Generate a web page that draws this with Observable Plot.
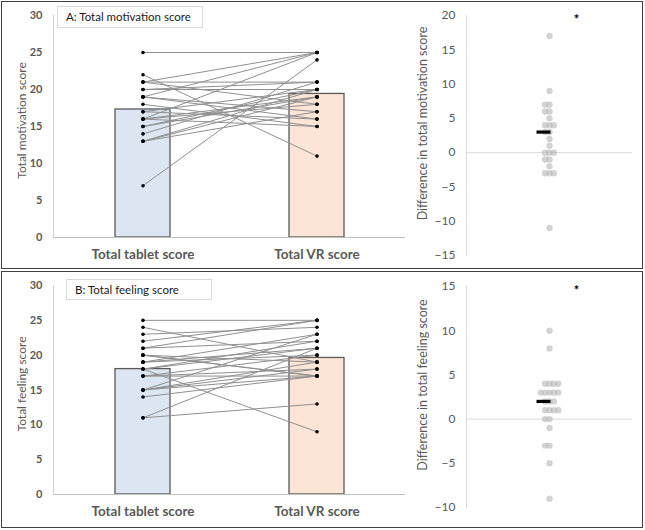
<!DOCTYPE html>
<html><head><meta charset="utf-8">
<script src="https://cdn.jsdelivr.net/npm/d3@7"></script>
<script src="https://cdn.jsdelivr.net/npm/@observablehq/plot@0.6"></script>
<style>
body{margin:0;background:#fff;font-family:Lato,"Open Sans",sans-serif;}
#root{position:relative;width:645px;height:530px;overflow:hidden;}
.panel{position:absolute;border:1.5px solid #404040;box-sizing:border-box;}
.chart{position:absolute;}
.title{position:absolute;border:1px solid #d9d9d9;box-sizing:border-box;font-size:11.5px;color:#1a1a1a;padding:3px 0 0 8px;background:#fff;white-space:nowrap;}
</style>
</head><body>
<div id="root"></div>
<script>
const categories = ["Total tablet score", "Total VR score"];
const barColors = ["#dce6f2", "#fce4d6"];
const leftTicks = [0, 5, 10, 15, 20, 25, 30];

// Panel A: Total motivation score (paired participants)
const motivationTablet = [25, 22, 7, 21, 16, 19, 21, 20, 21, 20, 19, 19, 18, 17, 16, 16, 15, 14, 13, 13, 15, 17, 16, 13];
const motivationVR     = [25, 11, 24, 25, 25, 25, 21, 21, 18, 20, 16, 17, 15, 16, 15, 19, 20, 21, 20, 19, 19, 20, 18, 17];
const motivationMeans = [17.3, 19.4];
const motivationMedianDiff = 3;
const motivationDiffTicks = [-15, -10, -5, 0, 5, 10, 15, 20];

// Panel B: Total feeling score (paired participants)
const feelingTablet = [25, 24, 23, 22, 21, 21, 20, 20, 19, 19, 18, 18, 18, 17, 17, 15, 15, 15, 15, 14, 11, 11, 20, 17, 19];
const feelingVR     = [25, 19, 24, 25, 25, 22, 17, 17, 23, 20, 9, 22, 21, 20, 17, 23, 19, 18, 17, 17, 21, 13, 19, 18, 21];
const feelingMeans = [18.0, 19.6];
const feelingMedianDiff = 2;
const feelingDiffTicks = [-10, -5, 0, 5, 10, 15];

const font = "Lato, 'Open Sans', sans-serif";

function pairedChart({tablet, vr, means, label, height, marginTop, marginBottom}) {
  const pairs = tablet.map((t, i) => ({t, v: vr[i]}));
  const bars = categories.map((c, i) => ({c, m: means[i]}));
  const points = pairs.flatMap(p => [{c: categories[0], y: p.t}, {c: categories[1], y: p.v}]);
  return Plot.plot({
    width: 410, height, marginLeft: 53, marginRight: 5, marginTop, marginBottom,
    style: {fontFamily: font, color: "#595959", background: "transparent"},
    x: {domain: categories, paddingInner: 0.686, paddingOuter: 0.349, label: null},
    y: {domain: [0, 30], label: null},
    color: {domain: categories, range: barColors},
    marks: [
      Plot.frame({anchor: "left", stroke: "#d0d0d0"}),
      Plot.barY(bars, {x: "c", y: "m", fill: "c", stroke: "#595959", strokeWidth: 1.3}),
      Plot.ruleY([0], {stroke: "#bfbfbf"}),
      Plot.link(pairs, {x1: () => categories[0], x2: () => categories[1], y1: "t", y2: "v", stroke: "#8f8f8f", strokeWidth: 1}),
      Plot.dot(points, {x: "c", y: "y", r: 1.8, fill: "#000"}),
      Plot.axisY({ticks: leftTicks, tickSize: 0, tickPadding: 11, fontSize: 11, fontWeight: "bold", label: null}),
      Plot.text([label], {frameAnchor: "left", textAnchor: "middle", text: d => d, rotate: -90, dx: -31, dy: -6, fontSize: 12, fill: "#595959"}),
      Plot.axisX({tickSize: 0, tickPadding: 12, fontSize: 13.5, fontWeight: "bold", label: null})
    ]
  });
}

const barSymbol = {draw(ctx) { ctx.moveTo(-7, -1.6); ctx.lineTo(7, -1.6); ctx.lineTo(7, 1.6); ctx.lineTo(-7, 1.6); ctx.closePath(); }};

function diffChart({tablet, vr, median, label, domain, ticks, height, marginTop, marginBottom}) {
  const diffs = tablet.map((t, i) => vr[i] - t);
  return Plot.plot({
    width: 245, height, marginLeft: 66, marginRight: 13, marginTop, marginBottom,
    style: {fontFamily: font, color: "#595959", background: "transparent"},
    y: {domain, label: null},
    marks: [
      Plot.frame({anchor: "left", stroke: "#d9d9d9"}),
      Plot.ruleY([0], {stroke: "#d9d9d9"}),
      Plot.dot(diffs, Plot.dodgeX({anchor: "middle", padding: -2, y: d => d, r: 3.2, fill: "#b5b5b5", fillOpacity: 0.6})),
      Plot.dot([median], {y: d => d, symbol: barSymbol, fill: "#000", stroke: "none", dx: -6}),
      Plot.text(["*"], {frameAnchor: "top", text: d => d, dx: 27, dy: -1, fontSize: 13, fontWeight: "bold", fill: "#000"}),
      Plot.axisY({ticks, tickSize: 0, tickPadding: 11, fontSize: 12, label: null}),
      Plot.text([label], {frameAnchor: "left", textAnchor: "middle", text: d => d, rotate: -90, dx: -44, dy: -12, fontSize: 12.5, fill: "#595959"})
    ]
  });
}

const root = document.getElementById("root");
function place(el, left, top) { el.classList.add("chart"); el.style.left = left + "px"; el.style.top = top + "px"; root.appendChild(el); }
function panel(top, h) { const d = document.createElement("div"); d.className = "panel"; Object.assign(d.style, {left: "1px", top: top + "px", width: "642px", height: h + "px"}); root.appendChild(d); }
function title(text, left, top, w, h) { const d = document.createElement("div"); d.className = "title"; d.textContent = text; Object.assign(d.style, {left: left + "px", top: top + "px", width: w + "px", height: h + "px"}); root.appendChild(d); }

panel(1, 268);
panel(271, 257);

place(pairedChart({tablet: motivationTablet, vr: motivationVR, means: motivationMeans, label: "Total motivation score", height: 268, marginTop: 15, marginBottom: 31}), 0, 0);
place(diffChart({tablet: motivationTablet, vr: motivationVR, median: motivationMedianDiff, label: "Difference in total motivation score", domain: [-15, 20], ticks: motivationDiffTicks, height: 268, marginTop: 15, marginBottom: 13}), 400, 0);

place(pairedChart({tablet: feelingTablet, vr: feelingVR, means: feelingMeans, label: "Total feeling score", height: 258, marginTop: 15, marginBottom: 34}), 0, 270);
place(diffChart({tablet: feelingTablet, vr: feelingVR, median: feelingMedianDiff, label: "Difference in total feeling score", domain: [-10, 15], ticks: feelingDiffTicks, height: 258, marginTop: 16, marginBottom: 21}), 400, 270);

title("A: Total motivation score", 57, 6, 146, 22);
title("B: Total feeling score", 66, 279, 146, 21);
</script>
</body></html>
